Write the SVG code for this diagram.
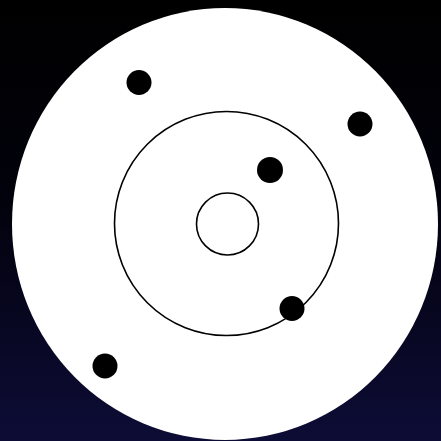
<svg xmlns="http://www.w3.org/2000/svg" width="441" height="441" viewBox="0 0 441 441">
  <defs>
    <linearGradient id="bg" x1="0" y1="0" x2="0" y2="1">
      <stop offset="0" stop-color="#000000"/>
      <stop offset="0.45" stop-color="#02020c"/>
      <stop offset="1" stop-color="#0d0c36"/>
    </linearGradient>
  </defs>
  <style>
    .ring { fill: none; stroke: #000; stroke-width: 1.6; }
    .dot { fill: #000; }
  </style>
  <rect x="0" y="0" width="441" height="441" fill="url(#bg)"/>
  <g id="disc">
    <ellipse cx="225" cy="224" rx="213" ry="216" fill="#ffffff"/>
  </g>
  <g id="rings">
    <circle class="ring" cx="226.5" cy="223.5" r="112"/>
    <circle class="ring" cx="227.5" cy="224" r="31"/>
  </g>
  <g id="dots">
    <circle id="dot1" class="dot" cx="139" cy="82.5" r="12.5"/>
    <circle id="dot2" class="dot" cx="360" cy="124" r="12.5"/>
    <circle id="dot3" class="dot" cx="270" cy="170" r="13"/>
    <circle id="dot4" class="dot" cx="292" cy="308.5" r="12.5"/>
    <circle id="dot5" class="dot" cx="105" cy="366" r="12.5"/>
  </g>
</svg>
